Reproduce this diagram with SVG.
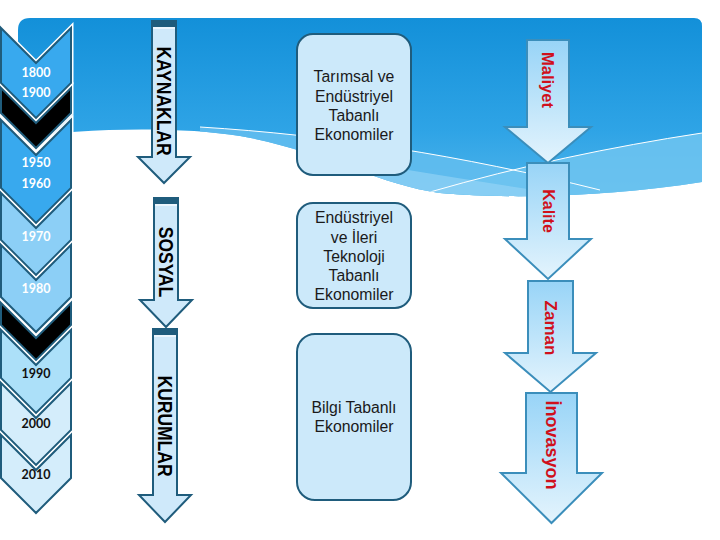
<svg xmlns="http://www.w3.org/2000/svg" width="720" height="540" viewBox="0 0 720 540">
<defs>
  <linearGradient id="hdr" x1="0" y1="0" x2="0" y2="1">
    <stop offset="0" stop-color="#1390d9"/>
    <stop offset="0.6" stop-color="#2fa4e6"/>
    <stop offset="1" stop-color="#55b8ec"/>
  </linearGradient>
  <linearGradient id="rarr" x1="0" y1="0" x2="0" y2="1">
    <stop offset="0" stop-color="#98d4f7"/>
    <stop offset="1" stop-color="#e4f4fd"/>
  </linearGradient>
  <clipPath id="hclip">
    <path d="M18,30 Q18,18 30,18 L694,18 Q702,18 702,26 L702,182 C620,195 520,200 440,193 C380,185 320,150 240,136 C180,126 80,128 18,138 Z"/>
  </clipPath>
  <style>
    .halo{fill:none;stroke:#ffffff;stroke-width:5;stroke-linejoin:miter}
    .chev{stroke:#1f5c7c;stroke-width:2;stroke-linejoin:miter}
    .yr{font-family:Lato,"Open Sans","Liberation Sans",sans-serif;font-weight:bold;font-size:12.5px;text-anchor:middle}
    .yw{fill:#ffffff}
    .yb{fill:#111111}
    .larr{fill:#cfe9fa;stroke:#1f5c7c;stroke-width:2;stroke-linejoin:miter}
    .band{fill:#1f5c7c}
    .bline{stroke:#ffffff;stroke-width:1.2}
    .ltxt{font-family:"Liberation Sans",Arial,sans-serif;font-weight:bold;font-size:17.5px;fill:#000000;text-anchor:middle;dominant-baseline:central}
    .box{fill:#cce9fa;stroke:#1f5c7c;stroke-width:2}
    .btxt{font-family:"Liberation Sans",Arial,sans-serif;font-size:15.8px;fill:#1a1a1a;text-anchor:middle}
    .rarr{fill:url(#rarr);stroke:#3b8ebb;stroke-width:2;stroke-linejoin:miter}
    .rtxt{font-family:"Liberation Sans",Arial,sans-serif;font-weight:bold;fill:#d0101c;text-anchor:middle;dominant-baseline:central}
  </style>
</defs>

<!-- background header -->
<g id="background">
  <rect x="0" y="0" width="720" height="540" fill="#ffffff"/>
  <g clip-path="url(#hclip)">
    <rect x="18" y="18" width="684" height="190" fill="url(#hdr)"/>
    <path d="M200,127 C330,135 460,155 600,190 L600,230 L200,230 Z" fill="#63bdee" opacity="0.85"/>
    <path d="M430,192 C520,166 610,147 702,133 L702,230 L430,230 Z" fill="#6fc4f0" opacity="0.85"/>
    <path d="M300,150 C400,170 500,185 600,200 L702,200 L702,230 L300,230 Z" fill="#9ad6f6" opacity="0.6"/>
    <path d="M200,127 C330,135 460,155 600,190" fill="none" stroke="#ffffff" stroke-width="1"/>
    <path d="M430,192 C520,166 610,147 702,133" fill="none" stroke="#ffffff" stroke-width="1"/>
  </g>
</g>

<!-- chevron timeline -->
<g id="chevrons">
  <g id="c1800">
    <polygon class="halo" points="1,28 36,63 71,28 71,83 36,118 1,83"/>
    <polygon class="chev" fill="#38a9ee" points="1,28 36,63 71,28 71,83 36,118 1,83"/>
    <text class="yr yw" x="36" y="77">1800</text>
    <text class="yr yw" x="36" y="97">1900</text>
  </g>
  <g id="black1">
    <polygon class="halo" points="1,88 36,123 71,88 71,113 36,148 1,113"/>
    <polygon class="chev" fill="#000000" points="1,88 36,123 71,88 71,113 36,148 1,113"/>
  </g>
  <g id="c1950">
    <polygon class="halo" points="1,120 36,155 71,120 71,188 36,223 1,188"/>
    <polygon class="chev" fill="#38a9ee" points="1,120 36,155 71,120 71,188 36,223 1,188"/>
    <text class="yr yw" x="36" y="167">1950</text>
    <text class="yr yw" x="36" y="188">1960</text>
  </g>
  <g id="c1970">
    <polygon class="halo" points="1,193 36,228 71,193 71,240 36,275 1,240"/>
    <polygon class="chev" fill="#8ccff6" points="1,193 36,228 71,193 71,240 36,275 1,240"/>
    <text class="yr yw" x="36" y="241">1970</text>
  </g>
  <g id="c1980">
    <polygon class="halo" points="1,245 36,280 71,245 71,297 36,332 1,297"/>
    <polygon class="chev" fill="#8ccff6" points="1,245 36,280 71,245 71,297 36,332 1,297"/>
    <text class="yr yw" x="36" y="293">1980</text>
  </g>
  <g id="black2">
    <polygon class="halo" points="1,303 36,338 71,303 71,325 36,360 1,325"/>
    <polygon class="chev" fill="#000000" points="1,303 36,338 71,303 71,325 36,360 1,325"/>
  </g>
  <g id="c1990">
    <polygon class="halo" points="1,330 36,365 71,330 71,378 36,413 1,378"/>
    <polygon class="chev" fill="#ace0f9" points="1,330 36,365 71,330 71,378 36,413 1,378"/>
    <text class="yr yb" x="36" y="378">1990</text>
  </g>
  <g id="c2000">
    <polygon class="halo" points="1,383 36,418 71,383 71,430 36,465 1,430"/>
    <polygon class="chev" fill="#d4edfb" points="1,383 36,418 71,383 71,430 36,465 1,430"/>
    <text class="yr yb" x="36" y="428">2000</text>
  </g>
  <g id="c2010">
    <polygon class="halo" points="1,435 36,470 71,435 71,478 36,513 1,478"/>
    <polygon class="chev" fill="#d4edfb" points="1,435 36,470 71,435 71,478 36,513 1,478"/>
    <text class="yr yb" x="36" y="479">2010</text>
  </g>
</g>

<!-- left category arrows -->
<g id="kaynaklar">
  <path class="larr" d="M152,21 L176,21 L176,157 L190,157 L164,183 L138,157 L152,157 Z"/>
  <rect class="band" x="152" y="21" width="24" height="6"/>
  <line class="bline" x1="153" y1="28" x2="175" y2="28"/>
  <text class="ltxt" transform="translate(164,101) rotate(90) scale(1,1.12)">KAYNAKLAR</text>
</g>
<g id="sosyal">
  <path class="larr" d="M154,198 L178,198 L178,300 L192,300 L166,327 L140,300 L154,300 Z"/>
  <rect class="band" x="154" y="198" width="24" height="6"/>
  <line class="bline" x1="155" y1="205" x2="177" y2="205"/>
  <text class="ltxt" transform="translate(166,262) rotate(90) scale(1,1.12)">SOSYAL</text>
</g>
<g id="kurumlar">
  <path class="larr" d="M153,329 L177,329 L177,495 L191,495 L165,522 L139,495 L153,495 Z"/>
  <rect class="band" x="153" y="329" width="24" height="6"/>
  <line class="bline" x1="154" y1="336" x2="176" y2="336"/>
  <text class="ltxt" transform="translate(165,426) rotate(90) scale(1,1.12)">KURUMLAR</text>
</g>

<!-- economy boxes -->
<g id="box1">
  <rect class="box" x="297" y="34" width="114" height="141" rx="16" ry="16"/>
  <text class="btxt" x="354" y="82">Tarımsal ve</text>
  <text class="btxt" x="354" y="102">Endüstriyel</text>
  <text class="btxt" x="354" y="121">Tabanlı</text>
  <text class="btxt" x="354" y="140">Ekonomiler</text>
</g>
<g id="box2">
  <rect class="box" x="297" y="203" width="114" height="105" rx="16" ry="16"/>
  <text class="btxt" x="354" y="223">Endüstriyel</text>
  <text class="btxt" x="354" y="243">ve İleri</text>
  <text class="btxt" x="354" y="262">Teknoloji</text>
  <text class="btxt" x="354" y="281">Tabanlı</text>
  <text class="btxt" x="354" y="300">Ekonomiler</text>
</g>
<g id="box3">
  <rect class="box" x="297" y="334" width="114" height="166" rx="18" ry="18"/>
  <text class="btxt" x="354" y="413">Bilgi Tabanlı</text>
  <text class="btxt" x="354" y="432">Ekonomiler</text>
</g>

<!-- right criteria arrows -->
<g id="maliyet">
  <path class="rarr" d="M527,40 L569,40 L569,127 L591,127 L548,163 L505,127 L527,127 Z"/>
  <text class="rtxt" font-size="16.5" transform="translate(548,80) rotate(90)">Maliyet</text>
</g>
<g id="kalite">
  <path class="rarr" d="M527,163 L569,163 L569,239 L591,239 L548,279 L505,239 L527,239 Z"/>
  <text class="rtxt" font-size="16" transform="translate(548,211) rotate(90)">Kalite</text>
</g>
<g id="zaman">
  <path class="rarr" d="M528,281 L573,281 L573,353 L596,353 L550.5,392 L505,353 L528,353 Z"/>
  <text class="rtxt" font-size="17" transform="translate(550.5,328) rotate(90)">Zaman</text>
</g>
<g id="inovasyon">
  <path class="rarr" d="M526,393 L577,393 L577,473 L602,473 L551.5,523 L501,473 L526,473 Z"/>
  <text class="rtxt" font-size="18" transform="translate(551.5,445) rotate(90)">İnovasyon</text>
</g>
</svg>
